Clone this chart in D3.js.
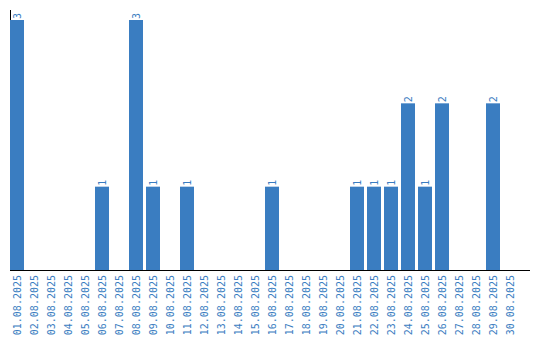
<!DOCTYPE html>
<html><head><meta charset="utf-8">
<script src="https://cdn.jsdelivr.net/npm/d3@7/dist/d3.min.js"></script>
<style>body{margin:0;background:#fff}</style>
</head><body><svg id="c" width="540" height="340"></svg>
<script>
const categories = ["01.08.2025","02.08.2025","03.08.2025","04.08.2025","05.08.2025","06.08.2025","07.08.2025","08.08.2025","09.08.2025","10.08.2025","11.08.2025","12.08.2025","13.08.2025","14.08.2025","15.08.2025","16.08.2025","17.08.2025","18.08.2025","19.08.2025","20.08.2025","21.08.2025","22.08.2025","23.08.2025","24.08.2025","25.08.2025","26.08.2025","27.08.2025","28.08.2025","29.08.2025","30.08.2025"];
const values = [3,0,0,0,0,1,0,3,1,0,1,0,0,0,0,1,0,0,0,0,1,1,1,2,1,2,0,0,2,0];
const color = "#3a7dc1";
const svg = d3.select("#c");
const x = d3.scaleBand().domain(categories).range([10,517]).paddingInner(3/17).paddingOuter(0).align(0);
const y = d3.scaleLinear().domain([0,3]).range([270,20]);
// axes (under bars)
svg.append("line").attr("x1",10.5).attr("x2",10.5).attr("y1",10).attr("y2",270).attr("stroke","#000");
svg.append("g").selectAll("rect").data(categories).join("rect")
  .attr("x", d=>x(d)).attr("width", x.bandwidth())
  .attr("y", (d,i)=>y(values[i])).attr("height",(d,i)=>y(0)-y(values[i]))
  .attr("fill", color);
svg.append("line").attr("x1",10).attr("x2",530).attr("y1",270.5).attr("y2",270.5).attr("stroke","#000");
// tick labels
svg.append("g").selectAll("text").data(categories).join("text")
  .attr("transform", d=>`translate(${x(d)+x.bandwidth()/2+4},275) rotate(-90)`)
  .attr("text-anchor","end")
  .attr("font-family","DejaVu Sans Mono").attr("font-size",10).attr("fill",color)
  .text(d=>d);
// value labels
svg.append("g").selectAll("text").data(categories.filter((d,i)=>values[i]>0)).join("text")
  .attr("transform", d=>{const v=values[categories.indexOf(d)];return `translate(${x(d)+x.bandwidth()/2+4},${y(v)-1}) rotate(-90)`;})
  .attr("text-anchor","start")
  .attr("font-family","DejaVu Sans Mono").attr("font-size",10).attr("fill",color)
  .text(d=>values[categories.indexOf(d)]);
</script></body></html>
